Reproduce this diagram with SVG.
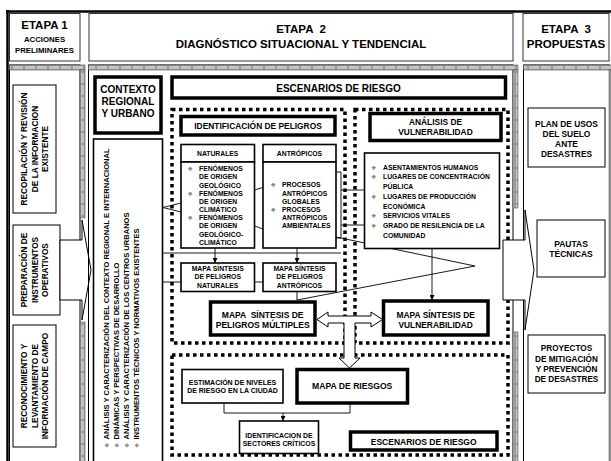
<svg xmlns="http://www.w3.org/2000/svg" width="611" height="461" viewBox="0 0 611 461">
<style>
.b{font-family:"Liberation Sans",Arial,sans-serif;font-weight:bold;fill:#000;text-anchor:middle}
.l{text-anchor:start}
.pre{white-space:pre}
.box{fill:#fff;stroke:#000;stroke-width:1.6}
.tb{fill:#fff;stroke:#000;stroke-width:1}
.thick{fill:#fff;stroke:#000;stroke-width:3.5}
.pan{fill:#fff;stroke:#000;stroke-width:1}
.dot{fill:none;stroke:#000;stroke-width:3.5;stroke-dasharray:3.5 3.5}
.ln{fill:none;stroke:#000;stroke-width:0.9}
.blk{fill:#fff;stroke:#000;stroke-width:1}
.bar{stroke:#555;stroke-width:0.6}
.bul{font-family:"DejaVu Sans",sans-serif;fill:#777;font-size:6px}
</style>
<defs>
<pattern id="gh" width="12" height="5" patternUnits="userSpaceOnUse"><rect width="12" height="5" fill="#9a9a9a"/><rect x="1" y="1" width="10" height="3" fill="#c4c4c4"/></pattern>
<pattern id="gv" width="5" height="12" patternUnits="userSpaceOnUse"><rect width="5" height="12" fill="#9a9a9a"/><rect x="1" y="1" width="3" height="10" fill="#c4c4c4"/></pattern>
<marker id="ar" viewBox="0 0 6 6" refX="6" refY="3" markerWidth="5" markerHeight="5" orient="auto" markerUnits="userSpaceOnUse"><path d="M0,0 L6,3 L0,6 Z" fill="#000"/></marker>
</defs>
<rect width="611" height="461" fill="#fff"/>

<!-- outer frame -->
<line x1="7.5" y1="10" x2="7.5" y2="461" stroke="#000" stroke-width="2.5"/>
<line x1="6" y1="11.5" x2="611" y2="11.5" stroke="#000" stroke-width="2.5"/>

<!-- headers -->
<g id="etapa1">
<rect x="9.5" y="13.5" width="70.5" height="47.5" fill="#fff" stroke="#333" stroke-width="1"/>
<text class="b" x="44.5" y="29" font-size="11.5">ETAPA 1</text>
<text class="b" x="44.5" y="42" font-size="7.8">ACCIONES</text>
<text class="b" x="44.5" y="53" font-size="7.8">PRELIMINARES</text>
</g>
<g id="etapa2">
<rect x="89" y="13.5" width="424" height="47.5" fill="#fff" stroke="#333" stroke-width="1"/>
<text class="b pre" x="301" y="33" font-size="11.5">ETAPA  2</text>
<text class="b" x="301" y="48" font-size="11.5">DIAGNÓSTICO SITUACIONAL Y TENDENCIAL</text>
</g>
<g id="etapa3">
<rect x="523" y="13.5" width="86" height="47.5" fill="#fff" stroke="#333" stroke-width="1"/>
<text class="b pre" x="566" y="33" font-size="11.5">ETAPA  3</text>
<text class="b" x="566" y="48" font-size="11.5">PROPUESTAS</text>
</g>

<!-- panels -->
<rect class="pan" x="9.5" y="65" width="70.5" height="405"/>
<rect class="pan" x="88.5" y="65" width="424.5" height="405"/>
<rect class="pan" x="523.5" y="65" width="86" height="405"/>

<!-- gray bars -->
<rect class="bar" x="9.5" y="65" width="75.5" height="5" fill="url(#gh)"/>
<rect class="bar" x="80" y="70" width="5" height="148" fill="url(#gv)"/>
<rect class="bar" x="80" y="322" width="5" height="145" fill="url(#gv)"/>
<rect class="bar" x="88.5" y="65" width="429.5" height="5" fill="url(#gh)"/>
<rect class="bar" x="513" y="70" width="5" height="138" fill="url(#gv)"/>
<rect class="bar" x="513" y="332" width="5" height="135" fill="url(#gv)"/>
<rect class="bar" x="523.5" y="65" width="88" height="5" fill="url(#gh)"/>
<rect class="bar" x="609" y="70" width="3" height="397" fill="url(#gv)"/>

<!-- stage 1 -->
<g id="recopilacion">
<rect class="tb" x="13" y="85" width="43" height="128"/>
<g transform="translate(34.5,149) rotate(-90)">
<text class="b" x="0" y="-7.5" font-size="8.3">RECOPILACIÓN Y REVISIÓN</text>
<text class="b" x="0" y="3" font-size="8.3">DE LA INFORMACION</text>
<text class="b" x="0" y="13.5" font-size="8.3">EXISTENTE</text>
</g>
</g>
<g id="preparacion">
<rect class="tb" x="13" y="225" width="47" height="90"/>
<g transform="translate(34.5,270) rotate(-90)">
<text class="b" x="0" y="-7.5" font-size="8.3">PREPARACIÓN DE</text>
<text class="b" x="0" y="3" font-size="8.3">INSTRUMENTOS</text>
<text class="b" x="0" y="13.5" font-size="8.3">OPERATIVOS</text>
</g>
</g>
<g id="reconocimiento">
<rect class="tb" x="13" y="325" width="43" height="122"/>
<g transform="translate(34.5,386) rotate(-90)">
<text class="b" x="0" y="-7.5" font-size="8.3">RECONOCIMIENTO Y</text>
<text class="b" x="0" y="3" font-size="8.3">LEVANTAMIENTO DE</text>
<text class="b" x="0" y="13.5" font-size="8.3">INFORMACIÓN DE CAMPO</text>
</g>
</g>

<!-- stage 2 : context -->
<g id="contexto">
<rect class="thick" x="95" y="77" width="66" height="56"/>
<text class="b" x="128" y="93" font-size="10">CONTEXTO</text>
<text class="b" x="128" y="105" font-size="10">REGIONAL</text>
<text class="b" x="128" y="117" font-size="10">Y URBANO</text>
</g>
<g id="analisis-contexto">
<rect class="box" x="93.5" y="139" width="69" height="335"/>
<g transform="translate(0,0)">
<text class="bul" transform="translate(108.5,448) rotate(-90)">❖</text>
<text class="bul" transform="translate(118.5,448) rotate(-90)">❖</text>
<text class="bul" transform="translate(128.5,448) rotate(-90)">❖</text>
<text class="bul" transform="translate(138.5,448) rotate(-90)">❖</text>
<text class="b l" font-size="7" transform="translate(108.5,439.5) rotate(-90)" textLength="291" lengthAdjust="spacingAndGlyphs">ANÁLISIS Y CARACTERIZACIÓN DEL CONTEXTO REGIONAL E INTERNACIONAL</text>
<text class="b l" font-size="7" transform="translate(118.5,439.5) rotate(-90)" textLength="177" lengthAdjust="spacingAndGlyphs">DINÁMICAS Y PERSPECTIVAS DE DESARROLLO</text>
<text class="b l" font-size="7" transform="translate(128.5,439.5) rotate(-90)" textLength="227" lengthAdjust="spacingAndGlyphs">ANÁLISIS Y CARACTERIZACIÓN DE LOS CENTROS URBANOS</text>
<text class="b l" font-size="7" transform="translate(138.5,439.5) rotate(-90)" textLength="211" lengthAdjust="spacingAndGlyphs">INSTRUMENTOS TÉCNICOS Y NORMATIVOS EXISTENTES</text>
</g>
</g>

<g id="escenarios-top">
<rect class="thick" x="172" y="77" width="333.5" height="21"/>
<text class="b" x="338.5" y="92" font-size="10">ESCENARIOS DE RIESGO</text>
</g>

<!-- dotted frames -->
<rect class="dot" x="172" y="109.5" width="173" height="233.5"/>
<rect class="dot" x="355" y="109.5" width="153" height="233.5"/>
<rect class="dot" x="172" y="355" width="336" height="100"/>

<!-- connectors -->
<g id="connectors">
<polyline class="ln" points="181,203 163,207.5 181,212"/>
<line class="ln" x1="254.5" y1="190" x2="263" y2="187.5"/>
<line class="ln" x1="254.5" y1="226" x2="263" y2="229"/>
<polyline class="ln" points="336,172 341,172 341,238 336,238"/>
<line class="ln" x1="341" y1="190" x2="364.5" y2="190"/>
<line class="ln" x1="341" y1="225" x2="364.5" y2="225"/>
<line class="ln" x1="336" y1="237" x2="475" y2="266"/>
<polyline class="ln" points="297,291.5 297,300 475,266"/>
<line class="ln" x1="162.5" y1="253" x2="341" y2="253"/>
<line class="ln" x1="215" y1="248" x2="215" y2="263" marker-end="url(#ar)"/>
<line class="ln" x1="297" y1="248" x2="297" y2="263" marker-end="url(#ar)"/>
<line class="ln" x1="162.5" y1="282" x2="181" y2="282"/>
<line class="ln" x1="254.5" y1="282" x2="263" y2="282"/>
<line class="ln" x1="432" y1="248.5" x2="432" y2="300" marker-end="url(#ar)"/>
<polyline class="ln" points="224,403 224,413 350,413 350,403"/>
<line class="ln" x1="283" y1="413" x2="283" y2="421" marker-end="url(#ar)"/>
</g>

<!-- hazards -->
<g id="identificacion-peligros">
<rect class="thick" x="181" y="116.5" width="154" height="18.5"/>
<text class="b" x="258" y="129" font-size="8.4">IDENTIFICACIÓN DE PELIGROS</text>
</g>
<g id="naturales">
<rect class="box" x="181" y="144.5" width="73.5" height="17.5"/>
<text class="b" x="217.7" y="156" font-size="6.8">NATURALES</text>
<rect class="box" x="181" y="162" width="73.5" height="86"/>
<text class="bul" x="187.5" y="171">❖</text>
<text class="bul" x="187.5" y="195.5">❖</text>
<text class="bul" x="187.5" y="220">❖</text>
<g class="b l" font-size="6.8">
<text class="b l" x="199" y="171">FENÓMENOS</text>
<text class="b l" x="199" y="179.3">DE ORIGEN</text>
<text class="b l" x="199" y="187.5">GEOLÓGICO</text>
<text class="b l" x="199" y="195.5">FENÓMENOS</text>
<text class="b l" x="199" y="203.7">DE ORIGEN</text>
<text class="b l" x="199" y="212">CLIMÁTICO</text>
<text class="b l" x="199" y="220">FENÓMENOS</text>
<text class="b l" x="199" y="228.3">DE ORIGEN</text>
<text class="b l" x="199" y="236.5">GEOLÓGICO-</text>
<text class="b l" x="199" y="245">CLIMÁTICO</text>
</g>
</g>
<g id="antropicos">
<rect class="box" x="263" y="144.5" width="73" height="17.5"/>
<text class="b" x="299.5" y="156" font-size="6.8">ANTRÓPICOS</text>
<rect class="box" x="263" y="162" width="73" height="86"/>
<text class="bul" x="270.5" y="187">❖</text>
<text class="bul" x="270.5" y="211.7">❖</text>
<g font-size="6.8">
<text class="b l" x="282" y="187">PROCESOS</text>
<text class="b l" x="282" y="195.5">ANTRÓPICOS</text>
<text class="b l" x="282" y="203.5">GLOBALES</text>
<text class="b l" x="282" y="211.7">PROCESOS</text>
<text class="b l" x="282" y="220">ANTRÓPICOS</text>
<text class="b l" x="282" y="228.4">AMBIENTALES</text>
</g>
</g>
<g id="mapa-naturales">
<rect class="box" x="181" y="263" width="73.5" height="28.5"/>
<g font-size="6.8">
<text class="b" x="217.7" y="271">MAPA SÍNTESIS</text>
<text class="b" x="217.7" y="279.3">DE PELIGROS</text>
<text class="b" x="217.7" y="288">NATURALES</text>
</g>
</g>
<g id="mapa-antropicos">
<rect class="box" x="263" y="263" width="73" height="28.5"/>
<g font-size="6.8">
<text class="b" x="299.5" y="271">MAPA SÍNTESIS</text>
<text class="b" x="299.5" y="279.3">DE PELIGROS</text>
<text class="b" x="299.5" y="288">ANTRÓPICOS</text>
</g>
</g>

<!-- vulnerability -->
<g id="analisis-vulnerabilidad">
<rect class="thick" x="370" y="113.5" width="131" height="27"/>
<text class="b" x="435.5" y="124.5" font-size="8.4">ANÁLISIS DE</text>
<text class="b" x="435.5" y="135" font-size="8.4">VULNERABILIDAD</text>
</g>
<g id="elementos-vulnerables">
<rect class="box" x="364.5" y="153" width="135" height="95.5"/>
<text class="bul" x="371" y="169.7">❖</text>
<text class="bul" x="371" y="179.2">❖</text>
<text class="bul" x="371" y="199">❖</text>
<text class="bul" x="371" y="218">❖</text>
<text class="bul" x="371" y="227.5">❖</text>
<g font-size="6.8">
<text class="b l" x="383" y="169.7">ASENTAMIENTOS HUMANOS</text>
<text class="b l" x="383" y="179.2">LUGARES DE CONCENTRACIÓN</text>
<text class="b l" x="383" y="189">PÚBLICA</text>
<text class="b l" x="383" y="199">LUGARES DE PRODUCCIÓN</text>
<text class="b l" x="383" y="208.5">ECONÓMICA</text>
<text class="b l" x="383" y="218">SERVICIOS VITALES</text>
<text class="b l" x="383" y="227.5">GRADO DE RESILENCIA DE LA</text>
<text class="b l" x="383" y="237.5">COMUNIDAD</text>
</g>
</g>

<!-- block arrows -->
<polygon class="blk" points="60,240 82,240 82,220 91,270 82,320 82,300 60,300"/>
<polygon class="blk" points="503,240 525,240 525,210 534,270 525,330 525,300 503,300"/>
<polygon class="blk" points="317,319.5 328,312 328,316 371,316 371,312 382.5,319.5 371,327 371,323 355,323 355,358 360,358 349.5,368 339,358 344,358 344,323 328,323 328,327"/>
<line x1="88.5" y1="218" x2="88.5" y2="322" stroke="#000" stroke-width="1"/>

<g id="mapa-peligros-multiples">
<rect class="thick" x="210.5" y="302" width="104.5" height="33"/>
<text class="b pre" x="262.7" y="318" font-size="8.5">MAPA  SÍNTESIS DE</text>
<text class="b" x="262.7" y="328" font-size="8.5">PELIGROS MÚLTIPLES</text>
</g>
<g id="mapa-vulnerabilidad">
<rect class="thick" x="383.5" y="301" width="104.5" height="34"/>
<text class="b" x="435.7" y="317.5" font-size="8.4">MAPA SÍNTESIS DE</text>
<text class="b" x="435.7" y="327.5" font-size="8.4">VULNERABILIDAD</text>
</g>

<!-- risk -->
<g id="estimacion">
<rect class="box" x="182" y="369.5" width="101" height="33.5"/>
<text class="b" x="232.5" y="384.5" font-size="7">ESTIMACIÓN DE NIVELES</text>
<text class="b" x="232.5" y="393" font-size="7">DE RIESGO EN LA CIUDAD</text>
</g>
<g id="mapa-riesgos">
<rect class="thick" x="297" y="369.5" width="110.5" height="33.5"/>
<text class="b" x="352.2" y="389" font-size="8.6">MAPA DE RIESGOS</text>
</g>
<g id="sectores-criticos">
<rect class="box" x="239.5" y="421" width="79" height="32.5"/>
<text class="b" x="279" y="437.5" font-size="6.9">IDENTIFICACION DE</text>
<text class="b" x="279" y="446" font-size="6.9">SECTORES CRÍTICOS</text>
</g>
<g id="escenarios-bottom">
<rect class="thick" x="350.5" y="432" width="146.5" height="18"/>
<text class="b" x="423.7" y="444.5" font-size="8.5">ESCENARIOS DE RIESGO</text>
</g>

<!-- stage 3 -->
<g id="plan-usos">
<rect class="tb" x="528" y="108" width="77" height="59"/>
<text class="b" x="566.5" y="127" font-size="8.4">PLAN DE USOS</text>
<text class="b" x="566.5" y="137" font-size="8.4">DEL SUELO</text>
<text class="b" x="566.5" y="147" font-size="8.4">ANTE</text>
<text class="b" x="566.5" y="157" font-size="8.4">DESASTRES</text>
</g>
<g id="pautas">
<rect class="tb" x="537" y="220" width="68" height="57"/>
<text class="b" x="571" y="247" font-size="8.5">PAUTAS</text>
<text class="b" x="571" y="257" font-size="8.5">TÉCNICAS</text>
</g>
<g id="proyectos">
<rect class="tb" x="528" y="335" width="77" height="58"/>
<text class="b" x="566.5" y="351" font-size="8.2">PROYECTOS</text>
<text class="b" x="566.5" y="361.5" font-size="8.2">DE MITIGACIÓN</text>
<text class="b" x="566.5" y="372" font-size="8.2">Y PREVENCIÓN</text>
<text class="b" x="566.5" y="382" font-size="8.2">DE DESASTRES</text>
</g>
</svg>
